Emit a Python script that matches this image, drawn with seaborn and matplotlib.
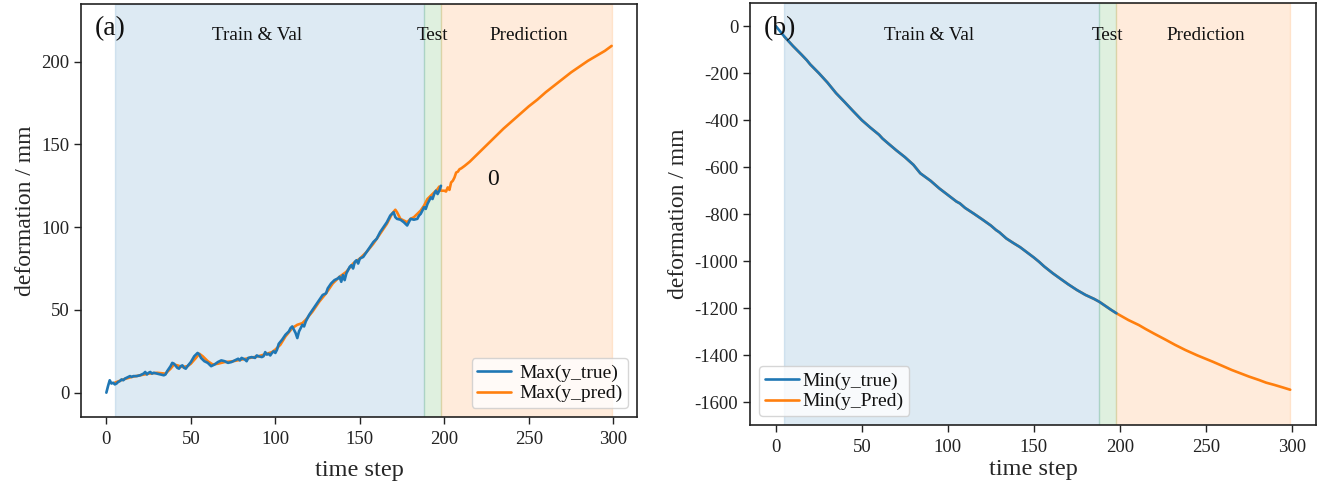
import matplotlib
matplotlib.use("Agg")
import matplotlib.pyplot as plt
import matplotlib.transforms as mtransforms
import seaborn as sns
import pandas as pd

# ---------------- data ----------------
# Panel (a): maximum deformation
a_true_x = [0, 1, 2, 3, 4, 5, 6, 7, 8, 9, 10, 11, 12, 13, 14, 15, 16, 18, 20, 22, 23, 24, 25, 26, 27, 28, 30, 32, 34, 35,
            36, 38, 39, 40, 42, 43, 44, 45, 46, 47, 48, 50, 52, 54, 55, 56, 58, 60, 62, 64, 66, 68, 70, 72, 74, 76, 78,
            79, 80, 82, 83, 84, 86, 88, 89, 90, 92, 93, 94, 95, 96, 97, 98, 99, 100, 101, 102, 104, 105, 106, 108, 109,
            110, 111, 112, 113, 114, 115, 116, 117, 118, 120, 122, 124, 126, 128, 130, 131, 133, 135, 137, 138, 139,
            140, 141, 142, 144, 145, 146, 147, 148, 149, 150, 152, 154, 156, 158, 160, 162, 164, 166, 168, 169, 170,
            171, 172, 174, 176, 177, 178, 179, 180, 182, 184, 185, 186, 187, 188, 189, 190, 191, 192, 193, 194, 195,
            196, 197, 198]
a_true_y = [0, 4, 7.5, 5.5, 6, 5, 5.5, 6.5, 7, 8, 7.5, 8.5, 9, 9.5, 10, 9.5, 10, 10, 10.5, 11.5, 12.5, 11, 12, 12.5,
            11.5, 12, 11.5, 11, 10.5, 11, 13, 16, 18, 17.5, 15, 14.5, 16, 16.5, 15, 14.5, 16, 18.5, 22, 24, 23, 21, 19,
            18, 16, 17, 18.5, 19.5, 19, 18, 18.5, 19.5, 20.5, 19.5, 21, 20, 19, 21, 21.5, 21, 22.5, 22, 21.5, 22, 24.5,
            23, 23.5, 22.5, 24, 25, 24, 26, 29.5, 32, 33.5, 35, 37, 39, 40, 38, 36, 33, 37, 39, 41, 40, 43, 47, 50, 53,
            56, 59, 60, 63, 66, 68, 69, 70, 67, 71, 68, 72, 76, 77, 75, 79, 80, 78, 81, 82, 85, 88, 91, 93, 97, 100,
            103, 107, 108, 109, 106, 105, 104.5, 103, 102, 101, 103, 105, 104.5, 105, 107, 108, 110, 112, 111, 114,
            116, 118, 117, 120, 122, 120, 122, 125]

a_pred_x = [5, 10, 15, 20, 25, 30, 35, 38, 40, 42, 45, 48, 50, 53, 55, 57, 60, 63, 66, 70, 75, 80, 85, 90, 95, 98, 100,
            103, 106, 110, 113, 116, 118, 122, 126, 130, 134, 138, 142, 146, 150, 154, 158, 162, 166, 169, 171, 172,
            174, 176, 178, 180, 182, 184, 186, 188, 190, 192, 194, 196, 197, 198, 200, 201, 202, 203, 204, 205, 206,
            207, 208, 209, 210, 212, 215, 220, 225, 230, 235, 240, 245, 250, 255, 260, 265, 270, 275, 280, 285, 290,
            295, 299]
a_pred_y = [6, 8, 9.5, 10.5, 11.5, 12, 11.5, 14.5, 17, 16.5, 15.5, 16, 17.5, 21, 23.5, 22, 19, 17, 17.5, 18.5, 19, 20,
            21, 22, 23.5, 24.5, 26, 29, 34, 39, 41, 42, 44, 49, 55, 60, 66, 70, 73, 78, 81, 85, 90, 96, 102, 108,
            110.5, 109, 105, 104, 103, 105, 106, 108, 110, 113, 117, 119, 121, 123, 124.5, 122, 122, 121.5, 124,
            122.5, 127, 128, 130, 133, 133.5, 135, 135.5, 137, 139.5, 144.5, 149.5, 154.5, 159.5, 164, 168.5, 173,
            177, 181.5, 185.5, 189.5, 193.5, 197, 200.5, 203.5, 206.5, 209.5]

# Panel (b): minimum deformation
b_true_x = [0, 5, 10, 15, 18, 20, 25, 30, 35, 40, 45, 50, 55, 60, 62, 65, 70, 75, 80, 84, 90, 95, 100, 105, 107, 110,
            115, 120, 125, 128, 130, 134, 138, 142, 146, 150, 153, 156, 161, 165, 170, 175, 180, 185, 188, 192, 195, 198]
b_true_y = [0, -45, -85, -122, -145, -163, -200, -240, -285, -323, -362, -400, -432, -462, -478, -497, -528, -557,
            -590, -626, -658, -690, -718, -746, -754, -773, -797, -822, -848, -867, -877, -903, -922, -940, -962,
            -984, -1002, -1022, -1051, -1072, -1098, -1122, -1143, -1160, -1172, -1192, -1207, -1221]

b_pred_x = [5, 10, 15, 18, 20, 25, 30, 35, 40, 45, 50, 55, 60, 62, 65, 70, 75, 80, 84, 90, 95, 100, 105, 107, 110,
            115, 120, 125, 128, 130, 134, 138, 142, 146, 150, 153, 156, 161, 165, 170, 175, 180, 185, 188, 192, 195,
            198, 205, 211, 215, 220, 227, 232, 238, 245, 254, 260, 265, 270, 275, 281, 285, 290, 295, 299]
b_pred_y = [-45, -85, -122, -145, -163, -200, -240, -285, -323, -362, -400, -432, -462, -478, -497, -528, -557, -590,
            -626, -658, -690, -718, -746, -754, -773, -797, -822, -848, -867, -877, -903, -922, -940, -962, -984,
            -1002, -1022, -1051, -1072, -1098, -1122, -1143, -1160, -1172, -1192, -1207, -1221, -1250, -1271, -1288,
            -1308, -1335, -1355, -1377, -1400, -1427, -1446, -1462, -1476, -1490, -1505, -1516, -1526, -1537, -1546]

# phases (time steps)
span_edges = [5, 188, 198, 299]
phase_labels = ["Train & Val", "Test", "Prediction"]
phase_label_x = [89, 193, 250]

a_labels = ["Max(y_true)", "Max(y_pred)"]
b_labels = ["Min(y_true)", "Min(y_Pred)"]

# ---------------- style ----------------
sns.set_theme(style="ticks")
plt.rcParams["font.family"] = ["Liberation Serif", "DejaVu Serif"]
plt.rcParams["axes.unicode_minus"] = False
plt.rcParams["axes.edgecolor"] = "#222222"
plt.rcParams["xtick.color"] = "#222222"
plt.rcParams["ytick.color"] = "#222222"
plt.rcParams["text.color"] = "#111111"

blue = "#1f77b4"
orange = "#ff7f0e"
green = "#2ca02c"

fig = plt.figure(figsize=(13.25, 4.82), dpi=100)
ax1 = fig.add_axes([81 / 1325, 65 / 482, 556 / 1325, 413 / 482])
ax2 = fig.add_axes([750 / 1325, 57 / 482, 566 / 1325, 422 / 482])


def decorate(ax, tag, labels, true_x, true_y, pred_x, pred_y, legend_loc, hpad, xlpad):
    for (lo, hi), c in zip(zip(span_edges[:-1], span_edges[1:]), [blue, green, orange]):
        ax.axvspan(lo, hi, color=c, alpha=0.15, lw=1)
    dp = pd.DataFrame({"t": pred_x, "v": pred_y})
    dt = pd.DataFrame({"t": true_x, "v": true_y})
    sns.lineplot(data=dp, x="t", y="v", ax=ax, color=orange, lw=1.9, label=labels[1])
    sns.lineplot(data=dt, x="t", y="v", ax=ax, color=blue, lw=1.9, label=labels[0])
    trans = mtransforms.blended_transform_factory(ax.transData, ax.transAxes)
    for lab, xx in zip(phase_labels, phase_label_x):
        ax.text(xx, 0.923, lab, transform=trans, ha="center", va="center", fontsize=13.8)
    ax.text(0.024, 0.94, tag, transform=ax.transAxes, ha="left", va="center", fontsize=20)
    h, l = ax.get_legend_handles_labels()
    ax.legend(h[::-1], l[::-1], loc=legend_loc, fontsize=14, handlelength=1.75,
              borderpad=0.3, labelspacing=0.15, handletextpad=hpad, borderaxespad=0.45, framealpha=0.8)
    ax.set_xlim(-15, 314)
    ax.set_xticks([0, 50, 100, 150, 200, 250, 300])
    ax.set_xlabel("time step", fontsize=17.5, labelpad=xlpad)
    ax.set_ylabel("deformation / mm", fontsize=17)
    ax.tick_params(labelsize=13.5, length=5, width=1)
    ax.tick_params(axis="x", pad=5)
    for s in ax.spines.values():
        s.set_linewidth(1.2)
        s.set_visible(True)


decorate(ax1, "(a)", a_labels, a_true_x, a_true_y, a_pred_x, a_pred_y, "lower right", 0.4, 9)
ax1.set_ylim(-14.7, 234.8)
ax1.set_yticks([0, 50, 100, 150, 200])
ax1.text(229, 128.5, "0", ha="center", va="center", fontsize=17)

decorate(ax2, "(b)", b_labels, b_true_x, b_true_y, b_pred_x, b_pred_y, "lower left", 0.2, 2)
ax2.set_ylim(-1696, 98)
ax2.set_yticks([0, -200, -400, -600, -800, -1000, -1200, -1400, -1600])

fig.savefig("out.png", dpi=100)
